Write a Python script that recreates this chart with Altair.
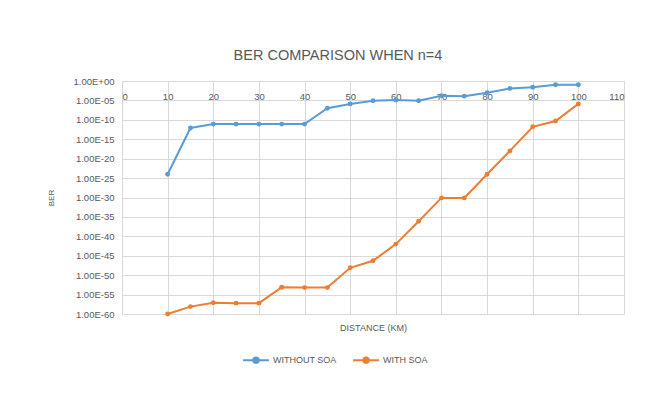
import altair as alt
import pandas as pd

distance = [10, 15, 20, 25, 30, 35, 40, 45, 50, 55, 60, 65, 70, 75, 80, 85, 90, 95, 100]
# BER read as powers of ten (exponents) from the picture
without_soa_exp = [-24.0, -12.1, -11.1, -11.1, -11.1, -11.1, -11.1, -7.0, -5.9, -5.1,
                   -4.9, -5.1, -3.8, -3.9, -3.0, -1.9, -1.6, -0.95, -0.95]
with_soa_exp = [-60.0, -58.1, -57.1, -57.2, -57.2, -53.1, -53.2, -53.2, -48.1, -46.3,
                -42.0, -36.1, -30.1, -30.1, -24.0, -18.0, -11.8, -10.3, -5.9]
series_names = ["WITHOUT SOA", "WITH SOA"]
series_colors = ["#5B9BD5", "#ED7D31"]
x_ticks = [0, 10, 20, 30, 40, 50, 60, 70, 80, 90, 100, 110]
y_tick_exps = [0, -5, -10, -15, -20, -25, -30, -35, -40, -45, -50, -55, -60]

rows = []
for d, e in zip(distance, without_soa_exp):
    rows.append({"distance": d, "ber": 10.0 ** e, "series": series_names[0]})
for d, e in zip(distance, with_soa_exp):
    rows.append({"distance": d, "ber": 10.0 ** e, "series": series_names[1]})
df = pd.DataFrame(rows)

FONT = "Liberation Sans"
TXT = "#595959"
GRID = "#d9d9d9"
W, H = 502, 233

label_expr = ("'1.00E' + (round(log(datum.value)/LN10) < 0 ? '-' : '+') + "
              "(abs(round(log(datum.value)/LN10)) < 10 ? '0' : '') + "
              "abs(round(log(datum.value)/LN10))")

x_enc = alt.X(
    "distance:Q",
    scale=alt.Scale(domain=[0, 110], nice=False),
    axis=alt.Axis(
        values=x_ticks, orient="bottom", offset=-H, tickSize=0, labelPadding=10,
        labelFont=FONT, labelFontSize=9.5, labelColor=TXT,
        domainColor=GRID, gridColor=GRID, grid=True,
        title="DISTANCE (KM)", titleFont=FONT, titleFontSize=9, titleFontWeight="normal",
        titleColor=TXT, titleX=W / 2, titleY=246, titleBaseline="middle", titleAlign="center",
    ),
)
y_enc = alt.Y(
    "ber:Q",
    scale=alt.Scale(type="log", domain=[1e-60, 1], nice=False),
    axis=alt.Axis(
        values=[10.0 ** e for e in y_tick_exps], labelExpr=label_expr, tickSize=0,
        labelPadding=8, labelFont=FONT, labelFontSize=9.5, labelColor=TXT,
        domain=False, gridColor=GRID, grid=True,
        title="BER", titleFont=FONT, titleFontSize=8, titleFontWeight="normal",
        titleColor=TXT, titleX=-71, titleY=H / 2, titleAngle=-90,
        titleBaseline="middle", titleAlign="center",
    ),
)
color_enc = alt.Color(
    "series:N",
    scale=alt.Scale(domain=series_names, range=series_colors),
    legend=alt.Legend(
        title=None, orient="none", direction="horizontal", legendX=122, legendY=267,
        symbolType="M-1.2,0L1.2,0M-0.25,0A0.25,0.25,0,1,0,0.25,0A0.25,0.25,0,1,0,-0.25,0Z",
        symbolSize=467, symbolStrokeWidth=2, labelOffset=5, columnPadding=12,
        labelFont=FONT, labelFontSize=9, labelColor=TXT,
    ),
)

base = alt.Chart(df).encode(x=x_enc, y=y_enc, color=color_enc)
lines = base.mark_line(strokeWidth=2)
points = base.mark_point(filled=True, size=24, opacity=1, shape="circle")

chart = (
    alt.layer(lines, points)
    .properties(
        width=W, height=H,
        title=alt.TitleParams(
            "BER COMPARISON WHEN n=4", font=FONT, fontSize=14.5, fontWeight="normal",
            color=TXT, anchor="middle", dx=-35, offset=2, frame="group",
            baseline="alphabetic",
        ),
        autosize=alt.AutoSizeParams(type="none"),
        padding={"left": 114, "top": 73, "right": 40, "bottom": 93},
        background="white",
    )
    .configure_view(stroke=None)
)

chart.save("out.html", embed_options={"renderer": "svg", "actions": False})
